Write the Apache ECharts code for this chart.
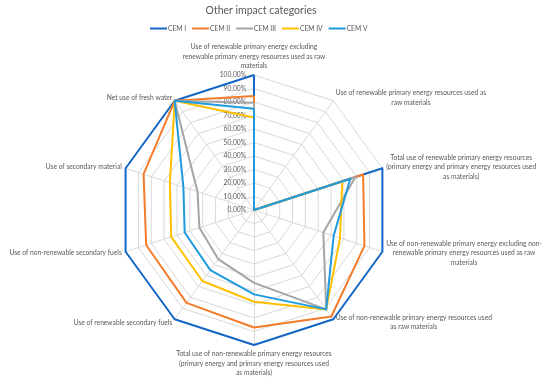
<!DOCTYPE html>
<html>
<head>
<meta charset="utf-8">
<script src="https://cdn.jsdelivr.net/npm/echarts@6/dist/echarts.min.js"></script>
<style>html,body{margin:0;padding:0;background:#fff;}#chart{width:550px;height:381px;}</style>
</head>
<body>
<div id="chart"></div>
<script>
// Categories, clockwise from the top (as in the reference)
const categories = [
  'Use of renewable primary energy excluding\nrenewable primary energy resources used as raw\nmaterials',
  'Use of renewable primary energy resources used as\nraw materials',
  'Total use of renewable primary energy resources\n(primary energy and primary energy resources used\nas materials)',
  'Use of non-renewable primary energy excluding non-\nrenewable primary energy resources used as raw\nmaterials',
  'Use of non-renewable primary energy resources used\nas raw materials',
  'Total use of non-renewable primary energy resources\n(primary energy and primary energy resources used\nas materials)',
  'Use of renewable secondary fuels',
  'Use of non-renewable secondary fuels',
  'Use of secondary material',
  'Net use of fresh water'
];
const seriesNames = ['CEM I', 'CEM II', 'CEM III', 'CEM IV', 'CEM V'];
const cem1 = [100, 0, 100, 100, 100, 100, 100, 100, 100, 100];
const cem2 = [84.5, 0, 85, 86, 97.5, 87, 85, 84, 86, 100];
const cem3 = [79.5, 0, 79, 54, 91, 54, 45, 42.5, 44, 100];
const cem4 = [68.5, 0, 68.7, 67, 91, 68, 65, 64.5, 65.5, 100];
const cem5 = [75, 0, 75, 62, 91, 62.5, 55, 54, 55, 100];
const tickLabels = ['0,00%', '10,00%', '20,00%', '30,00%', '40,00%', '50,00%', '60,00%', '70,00%', '80,00%', '90,00%', '100,00%'];
const colors = ['#1466C6', '#F47B2A', '#A5A5A5', '#FFC000', '#1E9BDF'];

const FONT = 'Lato, "Liberation Sans", sans-serif';
const LABEL_SIZE = 6.7;

// ECharts places indicators counter-clockwise; the reference is clockwise.
const n = categories.length;
const order = categories.map((_, i) => (n - i) % n);
const reorder = arr => order.map(k => arr[k]);

const indicators = reorder(categories).map((name, i) => {
  const ind = { name: name, max: 100, min: 0 };
  if (i === 0) ind.axisLabel = { show: true };
  return ind;
});

const chart = echarts.init(document.getElementById('chart'), null, { renderer: 'canvas' });
chart.setOption({
  backgroundColor: '#ffffff',
  animation: false,
  color: colors,
  title: {
    text: 'Other impact categories',
    left: 256, top: 0, textAlign: 'center',
    textStyle: { fontFamily: FONT, fontSize: 10.5, fontWeight: 'normal', color: '#595959' }
  },
  legend: {
    data: seriesNames,
    top: 20, left: 145,
    icon: 'rect', itemWidth: 17, itemHeight: 2, itemGap: 6,
    textStyle: { fontFamily: FONT, fontSize: LABEL_SIZE, color: '#595959', padding: [0, 0, 0, -4] }
  },
  radar: {
    center: [254, 210],
    radius: 135,
    startAngle: 90,
    shape: 'polygon',
    splitNumber: 10,
    indicator: indicators,
    axisName: {
      color: '#595959',
      fontFamily: FONT,
      fontSize: LABEL_SIZE,
      formatter: function (name) {
        const lines = name.split('\n');
        if (lines.length === 1) return name;
        return lines.map(l => '{c|' + l + '}').join('\n');
      },
      rich: { c: { align: 'center', fontFamily: FONT, fontSize: LABEL_SIZE, color: '#595959', lineHeight: 9.6 } }
    },
    nameGap: 4,
    axisLine: { lineStyle: { color: '#D9D9D9', width: 1 } },
    splitLine: { lineStyle: { color: '#D9D9D9', width: 1 } },
    splitArea: { show: false },
    axisTick: { show: false },
    axisLabel: {
      show: false,
      fontFamily: FONT, fontSize: LABEL_SIZE, color: '#595959',
      formatter: v => tickLabels[Math.round(v / 10)]
    }
  },
  series: [{
    type: 'radar',
    symbol: 'none',
    lineStyle: { width: 2 },
    data: [cem1, cem2, cem3, cem4, cem5].map((arr, i) => ({
      name: seriesNames[i],
      value: reorder(arr),
      lineStyle: { color: colors[i], width: 2 },
      itemStyle: { color: colors[i] }
    }))
  }]
});
</script>
</body>
</html>
